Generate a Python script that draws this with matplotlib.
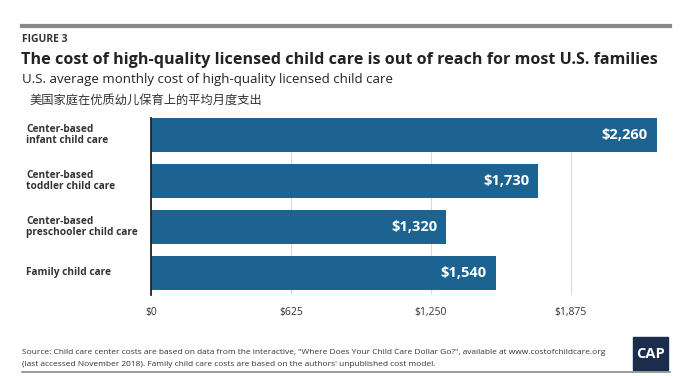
import matplotlib
matplotlib.use("Agg")
import matplotlib.pyplot as plt
from matplotlib.patches import Rectangle
from matplotlib.lines import Line2D
import matplotlib.transforms as mtransforms

plt.rcParams['font.family'] = ['Open Sans', 'Noto Sans CJK SC', 'DejaVu Sans']

categories = ["Center-based\ninfant child care",
              "Center-based\ntoddler child care",
              "Center-based\npreschooler child care",
              "Family child care"]
costs = [2260, 1730, 1320, 1540]
ticks = [0, 625, 1250, 1875]
tick_labels = ["$0", "$625", "$1,250", "$1,875"]

W, H = 692, 376
BAR = "#1d6391"
TXT = "#333333"

fig = plt.figure(figsize=(W / 100, H / 100), dpi=100)


def fx(px):
    return px / W


def fy(py):
    return 1 - py / H


# header / footer rules
fig.add_artist(Line2D([fx(22), fx(670)], [fy(26), fy(26)], color="#8a8a8a", lw=3))
fig.add_artist(Line2D([fx(22), fx(670)], [fy(372), fy(372)], color="#8a8a8a", lw=1.2))

fig.text(fx(22), fy(40), "FIGURE 3", fontsize=7.5, fontweight="bold", color=TXT, va="center")
fig.text(fx(21), fy(60), "The cost of high-quality licensed child care is out of reach for most U.S. families",
         fontsize=11.6, fontweight="bold", color="#222222", va="center")
fig.text(fx(22), fy(79), "U.S. average monthly cost of high-quality licensed child care",
         fontsize=9.5, color="#222222", va="center")
fig.text(fx(29), fy(100), "美国家庭在优质幼儿保育上的平均月度支出",
         fontsize=8.8, color="#333333", va="center", family=['Noto Sans CJK SC', 'DejaVu Sans'])

ax = fig.add_axes([fx(151), fy(295), fx(660) - fx(151), (295 - 118) / H])
y = range(len(categories))
ax.barh(y, costs, height=0.74, color=BAR, zorder=2)
ax.set_xlim(0, 2275)
ax.set_ylim(3.48, -0.37)
ax.set_xticks(ticks)
ax.set_xticklabels(tick_labels)
ax.tick_params(axis="x", length=0, pad=9, labelsize=7.5, labelcolor=TXT)
ax.set_yticks([])
ax.grid(axis="x", color="#dadada", lw=0.8, zorder=0)
for s in ["top", "right", "bottom"]:
    ax.spines[s].set_visible(False)
ax.spines["left"].set_color("#222222")
ax.spines["left"].set_linewidth(1.3)
ax.spines["left"].set_zorder(3)

for i, v in enumerate(costs):
    ax.annotate(f"${v:,}", (v, i), xytext=(-9, 0), textcoords="offset pixels",
                ha="right", va="center", color="white", fontsize=10.5, fontweight="bold")

trans = mtransforms.blended_transform_factory(fig.transFigure, ax.transData)
for i, c in enumerate(categories):
    ax.text(fx(26), i, c, transform=trans, ha="left", va="center", fontsize=7.3,
            fontweight="bold", color=TXT, linespacing=1.0)

fig.text(fx(22), fy(352),
         "Source: Child care center costs are based on data from the interactive, \"Where Does Your Child Care Dollar Go?\", available at www.costofchildcare.org",
         fontsize=6.05, color=TXT, va="center")
fig.text(fx(22), fy(365),
         "(last accessed November 2018). Family child care costs are based on the authors' unpublished cost model.",
         fontsize=6.05, color=TXT, va="center")

fig.add_artist(Rectangle((fx(633), fy(370)), fx(668) - fx(633), (370 - 337) / H,
                         transform=fig.transFigure, color="#1b2d4d"))
fig.text(fx(650.5), fy(353.5), "CAP", fontsize=10.5, fontweight="bold", color="white",
         ha="center", va="center")

fig.savefig("out.png", dpi=100)
